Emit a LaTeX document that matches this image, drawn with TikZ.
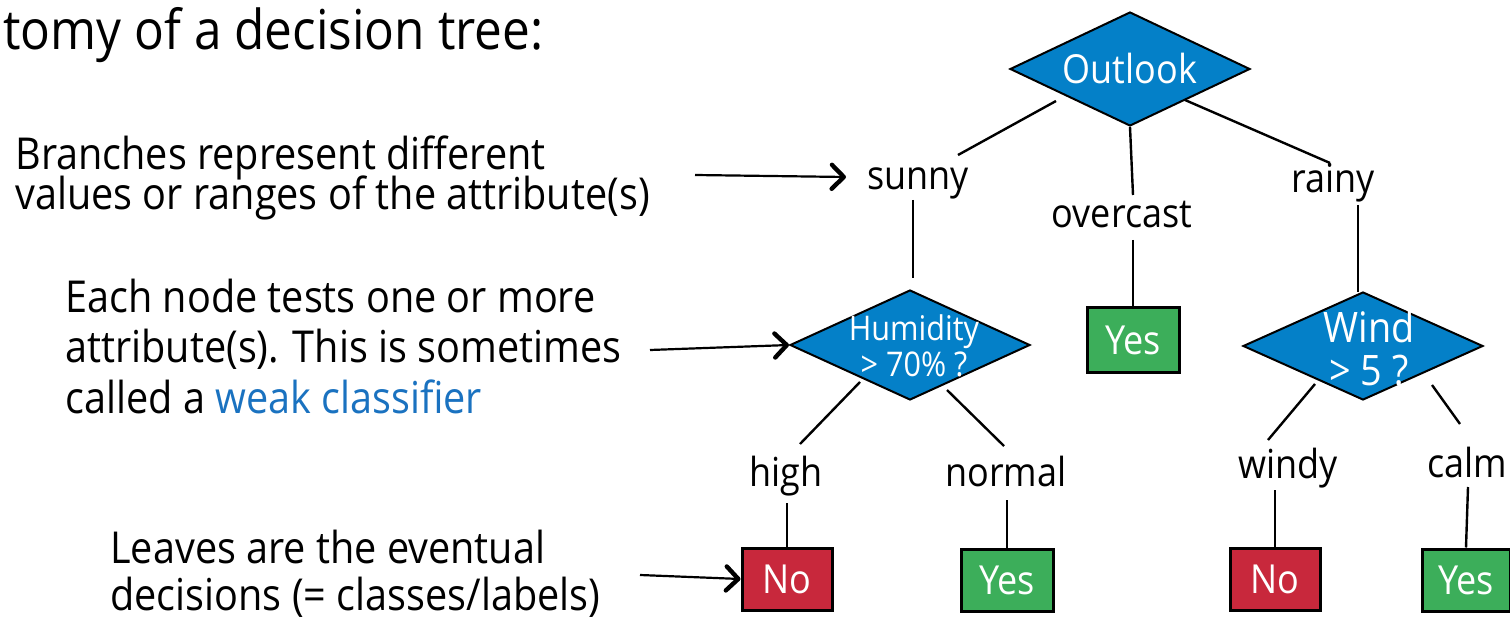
\documentclass[tikz,border=0pt]{standalone}
\usepackage{fontspec}
\setmainfont{Open Sans}[FakeStretch=0.9]
\usetikzlibrary{shapes.geometric,arrows.meta}
\definecolor{dblue}{RGB}{4,128,200}
\definecolor{dred}{RGB}{200,40,60}
\definecolor{dgreen}{RGB}{60,174,90}
\definecolor{tblue}{RGB}{26,114,192}
\tikzset{
  txt/.style={anchor=base west, inner sep=0pt, font=\fontsize{22}{22}\selectfont},
  lbl/.style={anchor=base, inner sep=2pt, font=\fontsize{20}{20}\selectfont},
  dia/.style={diamond, shape aspect=2.1, draw=black, line width=1pt, fill=dblue, text=white, inner sep=0pt, align=center},
  leaf/.style={rectangle, draw=black, line width=1.5pt, text=white, inner sep=0pt, font=\fontsize{20}{20}\selectfont},
  edge/.style={line width=1.2pt},
  pointer/.style={line width=1.1pt, -{Straight Barb[length=6pt,width=12pt,line width=2.2pt,round]}}
}
\begin{document}
\begin{tikzpicture}[x=0.5pt,y=-0.5pt]
\useasboundingbox (0,0) rectangle (1510,620);
% title
\node[anchor=base west, inner sep=0pt, font=\fontsize{27.5}{27.5}\selectfont] (title) at (3,50) {tomy of a decision tree:};
% left texts
\node[txt] (b1) at (15,170) {Branches represent different};
\node[txt] (b2) at (15,210) {values or ranges of the attribute(s)};
\node[txt] (e1) at (65,313) {Each node tests one or more};
\node[txt] (e2) at (65,363) {attribute(s). This is sometimes};
\node[txt] (e3) at (65,413) {called a \textcolor{tblue}{weak classifier}};
\node[txt] (l1) at (110,563) {Leaves are the eventual};
\node[txt] (l2) at (110,610) {decisions (= classes/labels)};
% diamonds
\node[dia, minimum width=120pt, minimum height=57pt, font=\fontsize{20}{20}\selectfont] (outlook) at (1130,69) {Outlook};
\node[dia, minimum width=120pt, minimum height=55pt] (hum) at (910,345) {};
\node[anchor=center, text=white, align=center, inner sep=0pt, font=\fontsize{17}{18}\selectfont] (humt) at (914,346) {Humidity\\> 70\% ?};
\node[dia, minimum width=120pt, minimum height=54pt] (wind) at (1363,346) {};
\node[anchor=center, text=white, align=center, inner sep=0pt, font=\fontsize{21}{21.5}\selectfont] (windt) at (1369,348) {Wind\\> 5 ?};
% labels
\node[lbl] (sunny) at (918,190) {sunny};
\node[lbl] (overcast) at (1122,228) {overcast};
\node[lbl] (rainy) at (1333,193) {rainy};
\node[lbl] (high) at (786,486) {high};
\node[lbl] (normal) at (1006,486) {normal};
\node[lbl] (windy) at (1288,478) {windy};
\node[lbl] (calm) at (1467,477) {calm};
% leaves
\node[leaf, fill=dgreen, minimum width=46pt, minimum height=32pt] (y1) at (1133,340) {Yes};
\node[leaf, fill=dred, minimum width=45pt, minimum height=31pt] (n1) at (787,579) {No};
\node[leaf, fill=dgreen, minimum width=46pt, minimum height=31pt] (y2) at (1007,580) {Yes};
\node[leaf, fill=dred, minimum width=45pt, minimum height=31pt] (n2) at (1275,579) {No};
\node[leaf, fill=dgreen, minimum width=44pt, minimum height=31pt] (y3) at (1466,580) {Yes};
% edges
\coordinate (o1) at (1056,101);
\coordinate (o2) at (958,155);
\draw[edge] (o1) -- (o2);
\draw[edge] (outlook.south) -- (1133,195);
\coordinate (o3) at (1185,100);
\coordinate (o4) at (1330,163);
\draw[edge] (o3) -- (o4);
\draw[edge] (913,200) -- (913,278);
\draw[edge] (1133,240) -- (y1.north);
\draw[edge] (1358,205) -- (1358,292);
\coordinate (h1) at (860,382);
\coordinate (h2) at (800,444);
\draw[edge] (h1) -- (h2);
\coordinate (h3) at (947,390);
\coordinate (h4) at (1004,446);
\draw[edge] (h3) -- (h4);
\coordinate (w1) at (1315,384);
\coordinate (w2) at (1268,440);
\draw[edge] (w1) -- (w2);
\coordinate (w3) at (1432,385);
\coordinate (w4) at (1460,424);
\draw[edge] (w3) -- (w4);
\draw[edge] (787,503) -- (n1.north);
\draw[edge] (1007,500) -- (y2.north);
\draw[edge] (1275,490) -- (n2.north);
\draw[edge] (1468,487) -- (y3.north);
% pointers
\coordinate (p1) at (695,175);
\coordinate (q1) at (846,177);
\draw[pointer] (p1) -- (q1);
\coordinate (p2) at (650,350);
\draw[pointer] (p2) -- (hum.west);
\coordinate (p3) at (640,575);
\draw[pointer] (p3) -- (n1.west);
\end{tikzpicture}
\end{document}
